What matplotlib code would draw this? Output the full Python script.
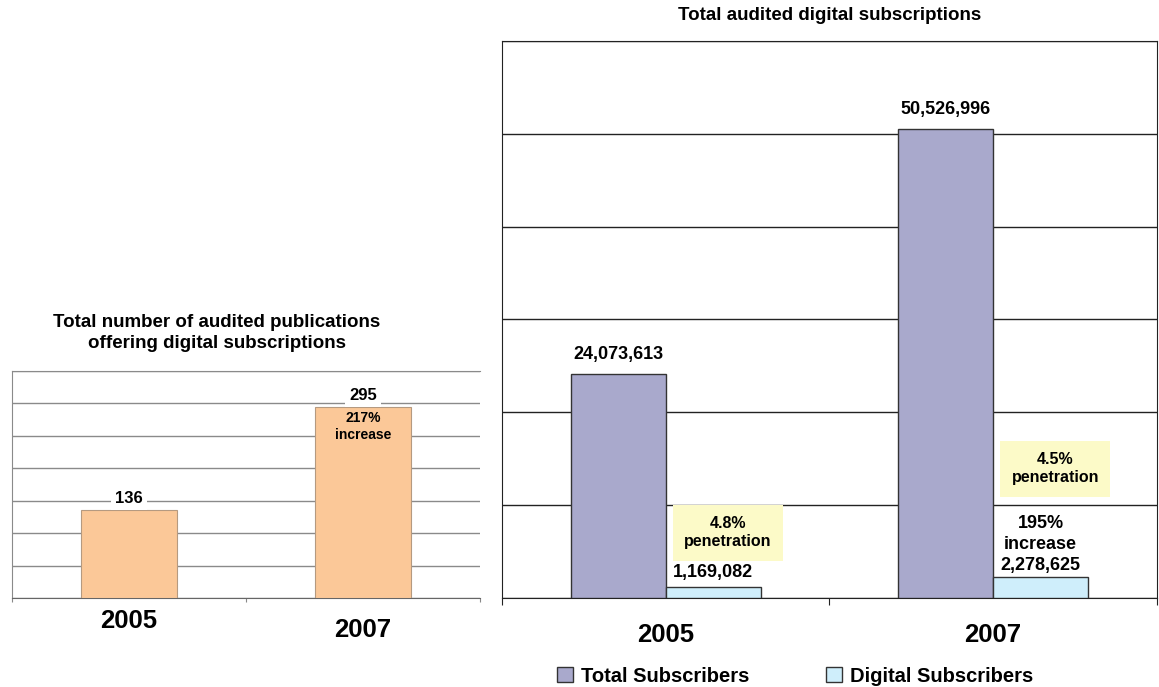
import matplotlib
matplotlib.use("Agg")
import matplotlib.pyplot as plt

# data
years = ["2005", "2007"]
publications = [136, 295]
total_subs = [24073613, 50526996]
digital_subs = [1169082, 2278625]
penetration = ["4.8%\npenetration", "4.5%\npenetration"]

orange = "#fbc898"
purple = "#a9a9cc"
lightblue = "#cfeefb"
yellow = "#fcfac8"

plt.rcParams["font.family"] = ["Liberation Sans", "DejaVu Sans"]
plt.rcParams["font.weight"] = "bold"

fig = plt.figure(figsize=(11.59, 6.87), dpi=100)

# ---- left chart: publications
ax1 = fig.add_axes([0.0104, 0.1296, 0.4038, 0.3304])
x = range(len(years))
ax1.bar(x, publications, width=0.41, color=orange, edgecolor="#b59a80", linewidth=0.8, zorder=3)
ax1.set_xlim(-0.5, 1.5)
ax1.set_ylim(0, 350)
ax1.set_yticks(range(0, 351, 50))
ax1.yaxis.grid(True, color="#8a8a8a", linewidth=1)
ax1.set_axisbelow(True)
ax1.tick_params(axis="y", length=0, labelleft=False)
ax1.set_xticks([-0.5, 0.5, 1.5])
ax1.tick_params(axis="x", length=3, color="#888888", labelbottom=False)
for s in ["top", "left"]:
    ax1.spines[s].set_color("#8a8a8a")
ax1.spines["right"].set_visible(False)
ax1.spines["bottom"].set_color("#666666")

ax1.text(0, publications[0] + 6, str(publications[0]), ha="center", va="bottom", fontsize=12,
         bbox=dict(facecolor="white", edgecolor="none", pad=3), zorder=4)
ax1.text(1, publications[1] + 6, str(publications[1]), ha="center", va="bottom", fontsize=12,
         bbox=dict(facecolor="white", edgecolor="none", pad=3), zorder=4)
ax1.text(1, publications[1] - 7, "217%\nincrease", ha="center", va="top", fontsize=10,
         linespacing=1.3, zorder=4)
ax1.text(0, -0.05, years[0], transform=ax1.get_xaxis_transform(), ha="center", va="top", fontsize=18.5)
ax1.text(1, -0.09, years[1], transform=ax1.get_xaxis_transform(), ha="center", va="top", fontsize=18.5)
ax1.text(0.438, 1.167, "Total number of audited publications\noffering digital subscriptions",
         transform=ax1.transAxes, ha="center", va="center", fontsize=13.5, linespacing=1.25)

# ---- right chart: subscriptions
ax2 = fig.add_axes([0.4331, 0.1296, 0.5651, 0.8108])
w = 0.29
pos = list(range(len(years)))
b1 = ax2.bar([p - w / 2 for p in pos], total_subs, width=w, color=purple, edgecolor="#333333",
             linewidth=1, zorder=3, label="Total Subscribers")
b2 = ax2.bar([p + w / 2 for p in pos], digital_subs, width=w, color=lightblue, edgecolor="#333333",
             linewidth=1, zorder=3, label="Digital Subscribers")
ax2.set_xlim(-0.5, 1.5)
ax2.set_ylim(0, 60000000)
ax2.set_yticks(range(0, 60000001, 10000000))
ax2.yaxis.grid(True, color="#222222", linewidth=1)
ax2.set_axisbelow(True)
ax2.tick_params(axis="y", length=0, labelleft=False)
ax2.set_xticks([-0.5, 0.5, 1.5])
ax2.tick_params(axis="x", length=5, color="#222222", labelbottom=False)
for s in ax2.spines.values():
    s.set_color("#222222")

for p, v in zip(pos, total_subs):
    ax2.text(p - w / 2, v + 1200000, f"{v:,}", ha="center", va="bottom", fontsize=13)
ax2.text(pos[0] + w / 2, digital_subs[0] + 700000, f"{digital_subs[0]:,}", ha="center", va="bottom",
         fontsize=13)
ax2.text(pos[1] + w / 2, digital_subs[1] + 350000, f"195%\nincrease\n{digital_subs[1]:,}", ha="center",
         va="bottom", fontsize=13, linespacing=1.3)
ax2.text(pos[0] + 0.19, 7000000, penetration[0], ha="center", va="center", fontsize=11.5,
         linespacing=1.25, bbox=dict(boxstyle="square,pad=0.7", facecolor=yellow, edgecolor="none"), zorder=4)
ax2.text(pos[1] + 0.19, 13900000, penetration[1], ha="center", va="center", fontsize=11.5,
         linespacing=1.25, bbox=dict(boxstyle="square,pad=0.7", facecolor=yellow, edgecolor="none"), zorder=4)
for p, yr in zip(pos, years):
    ax2.text(p, -0.045, yr, transform=ax2.get_xaxis_transform(), ha="center", va="top", fontsize=18.5)
ax2.text(0.5, 1.03, "Total audited digital subscriptions", transform=ax2.transAxes, ha="center",
         va="bottom", fontsize=13.5)

fig.legend(handles=[b1, b2], loc="center", bbox_to_anchor=(0.686, 0.016), ncol=2, frameon=False,
           fontsize=14.5, handlelength=0.8, handleheight=0.8, handletextpad=0.4, columnspacing=3.8)

fig.savefig("out.png", dpi=100)
